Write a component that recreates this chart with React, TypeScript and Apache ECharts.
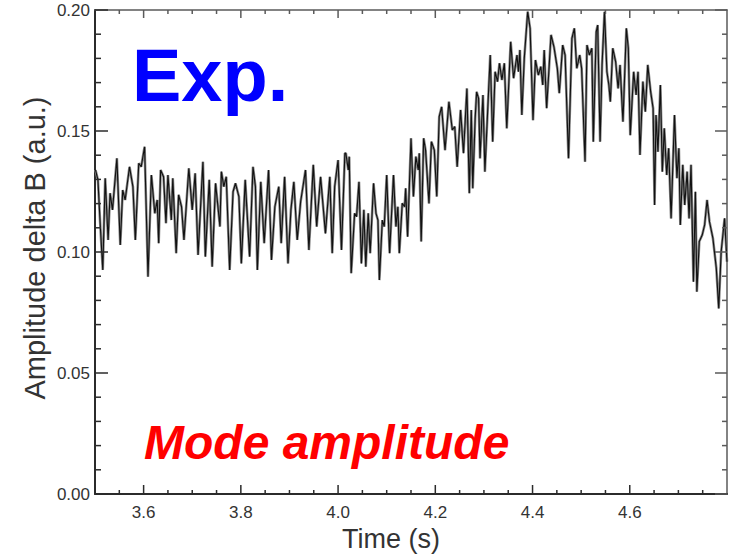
import React, { useEffect, useRef } from "react";
import * as echarts from "echarts";

// Time (s)
const timeS: number[] = [
  3.501, 3.506, 3.511, 3.516, 3.521, 3.527, 3.531, 3.536, 3.545, 3.552,
  3.557, 3.562, 3.571, 3.578, 3.583, 3.590, 3.595, 3.602, 3.609, 3.616,
  3.623, 3.628, 3.631, 3.635, 3.641, 3.646, 3.650, 3.657, 3.660, 3.667,
  3.672, 3.678, 3.683, 3.693, 3.700, 3.706, 3.712, 3.722, 3.727, 3.735,
  3.741, 3.748, 3.757, 3.760, 3.765, 3.770, 3.777, 3.784, 3.789, 3.796,
  3.801, 3.809, 3.818, 3.825, 3.830, 3.834, 3.841, 3.848, 3.857, 3.863,
  3.870, 3.878, 3.883, 3.890, 3.897, 3.903, 3.909, 3.916, 3.923, 3.933,
  3.940, 3.949, 3.956, 3.964, 3.974, 3.983, 3.988, 3.993, 4.000, 4.007,
  4.014, 4.016, 4.021, 4.023, 4.027, 4.034, 4.038, 4.043, 4.048, 4.053,
  4.057, 4.062, 4.066, 4.073, 4.078, 4.082, 4.085, 4.091, 4.095, 4.100,
  4.106, 4.114, 4.119, 4.123, 4.126, 4.132, 4.137, 4.139, 4.143, 4.150,
  4.155, 4.160, 4.165, 4.167, 4.171, 4.176, 4.180, 4.187, 4.192, 4.198,
  4.203, 4.208, 4.213, 4.220, 4.228, 4.235, 4.240, 4.245, 4.252, 4.258,
  4.265, 4.270, 4.274, 4.277, 4.282, 4.285, 4.289, 4.292, 4.298, 4.302,
  4.307, 4.313, 4.318, 4.323, 4.328, 4.332, 4.337, 4.342, 4.347, 4.355,
  4.361, 4.368, 4.371, 4.374, 4.378, 4.383, 4.390, 4.395, 4.401, 4.406,
  4.412, 4.417, 4.421, 4.424, 4.429, 4.438, 4.444, 4.451, 4.455, 4.462,
  4.467, 4.474, 4.481, 4.486, 4.491, 4.497, 4.501, 4.508, 4.512, 4.517,
  4.522, 4.525, 4.531, 4.534, 4.539, 4.543, 4.548, 4.553, 4.557, 4.560,
  4.565, 4.571, 4.576, 4.580, 4.586, 4.593, 4.597, 4.601, 4.608, 4.613,
  4.617, 4.621, 4.627, 4.632, 4.637, 4.643, 4.648, 4.651, 4.654, 4.658,
  4.663, 4.667, 4.671, 4.676, 4.680, 4.685, 4.692, 4.697, 4.701, 4.704,
  4.709, 4.713, 4.718, 4.722, 4.726, 4.731, 4.735, 4.738, 4.743, 4.749,
  4.754, 4.759, 4.764, 4.771, 4.778, 4.783, 4.788, 4.795, 4.800,
];

// Amplitude delta B (a.u.)
const amplitude: number[] = [
  0.1339, 0.1298, 0.1105, 0.0926, 0.1305, 0.1050, 0.1243, 0.1174, 0.1387, 0.1029,
  0.1256, 0.1215, 0.1352, 0.1270, 0.1050, 0.1367, 0.1352, 0.1435, 0.0898, 0.1318,
  0.1160, 0.1215, 0.1036, 0.1339, 0.1311, 0.1119, 0.1318, 0.1132, 0.1305, 0.0995,
  0.1236, 0.1187, 0.1050, 0.1346, 0.1174, 0.1325, 0.0988, 0.1373, 0.0981, 0.1298,
  0.0939, 0.1284, 0.1105, 0.1332, 0.1270, 0.1311, 0.0926, 0.1249, 0.1284, 0.1229,
  0.0953, 0.1298, 0.0981, 0.1352, 0.1270, 0.0926, 0.1290, 0.1036, 0.1339, 0.0967,
  0.1187, 0.1270, 0.1036, 0.1311, 0.0953, 0.1174, 0.1290, 0.1050, 0.1208, 0.1339,
  0.1008, 0.1360, 0.1105, 0.1311, 0.1077, 0.1311, 0.0995, 0.1270, 0.1380, 0.1008,
  0.1408, 0.1408, 0.1339, 0.1394, 0.0912, 0.1160, 0.1146, 0.1290, 0.0953, 0.1174,
  0.0939, 0.1160, 0.0995, 0.1284, 0.1160, 0.1132, 0.0884, 0.1132, 0.1105, 0.1318,
  0.0995, 0.1318, 0.1105, 0.1187, 0.0995, 0.1201, 0.1187, 0.1263, 0.1063, 0.1470,
  0.1229, 0.1394, 0.1339, 0.1408, 0.1043, 0.1470, 0.1421, 0.1201, 0.1456, 0.1421,
  0.1229, 0.1559, 0.1600, 0.1421, 0.1621, 0.1504, 0.1518, 0.1352, 0.1587, 0.1408,
  0.1676, 0.1243, 0.1587, 0.1263, 0.1552, 0.1662, 0.1635, 0.1387, 0.1649, 0.1332,
  0.1552, 0.1814, 0.1456, 0.1745, 0.1704, 0.1780, 0.1711, 0.1780, 0.1511, 0.1869,
  0.1718, 0.1814, 0.1745, 0.1835, 0.1566, 0.1800, 0.1993, 0.1924, 0.1545, 0.1793,
  0.1731, 0.1766, 0.1690, 0.1835, 0.1594, 0.1897, 0.1848, 0.1759, 0.1656, 0.1855,
  0.1814, 0.1387, 0.1883, 0.1924, 0.1759, 0.1814, 0.1759, 0.1373, 0.1855, 0.1814,
  0.1842, 0.1456, 0.1910, 0.1938, 0.1456, 0.1773, 0.1993, 0.1745, 0.1690, 0.1621,
  0.1842, 0.1786, 0.1676, 0.1773, 0.1538, 0.1924, 0.1842, 0.1483, 0.1745, 0.1649,
  0.1745, 0.1401, 0.1704, 0.1580, 0.1773, 0.1662, 0.1594, 0.1194, 0.1566, 0.1414,
  0.1690, 0.1332, 0.1511, 0.1318, 0.1429, 0.1139, 0.1566, 0.1305, 0.1429, 0.1112,
  0.1360, 0.1194, 0.1332, 0.1139, 0.1360, 0.0877, 0.1249, 0.0836, 0.1043, 0.1070,
  0.1112, 0.1215, 0.1125, 0.1057, 0.0933, 0.0767, 0.1001, 0.1139, 0.0960,
];

// Tick values
const xMajorTicks: number[] = [3.6, 3.8, 4.0, 4.2, 4.4, 4.6];
const xMinorTicks: number[] = [
  3.55, 3.65, 3.7, 3.75, 3.85, 3.9, 3.95, 4.05, 4.1, 4.15, 4.25, 4.3, 4.35,
  4.45, 4.5, 4.55, 4.65, 4.7, 4.75,
];
const yMajorTicks: number[] = [0, 0.05, 0.1, 0.15, 0.2];
const yMinorTicks: number[] = [
  0.01, 0.02, 0.03, 0.04, 0.06, 0.07, 0.08, 0.09, 0.11, 0.12, 0.13, 0.14,
  0.16, 0.17, 0.18, 0.19,
];

const xMin = 3.5;
const xMax = 4.8;
const yMin = 0;
const yMax = 0.2;
const yInterval = 0.05;

const FONT = "'Liberation Sans', Arial, Helvetica, sans-serif";
const AXIS_DARK = "#2b2b2b";
const AXIS_GRAY = "#5a5a5a";

// side codes: 0 bottom, 1 top, 2 left, 3 right
const SIDE_BOTTOM = 0;
const SIDE_TOP = 1;
const SIDE_LEFT = 2;
const SIDE_RIGHT = 3;

export default function App() {
  const ref = useRef<HTMLDivElement | null>(null);

  useEffect(() => {
    if (!ref.current) return;
    const chart = echarts.init(ref.current, undefined, { renderer: "svg" });
    const data = timeS.map((t, i) => [t, amplitude[i]]);

    // tick marks drawn through the axes' scales: [x, y, side, length]
    const tickData: number[][] = [];
    xMajorTicks.forEach((v) => {
      tickData.push([v, yMin, SIDE_BOTTOM, 9]);
      tickData.push([v, yMax, SIDE_TOP, 8]);
    });
    xMinorTicks.forEach((v) => {
      tickData.push([v, yMin, SIDE_BOTTOM, 4]);
      tickData.push([v, yMax, SIDE_TOP, 4]);
    });
    yMajorTicks.forEach((v) => {
      tickData.push([xMin, v, SIDE_LEFT, 13]);
      tickData.push([xMax, v, SIDE_RIGHT, 12]);
    });
    yMinorTicks.forEach((v) => {
      tickData.push([xMin, v, SIDE_LEFT, 6]);
      tickData.push([xMax, v, SIDE_RIGHT, 5]);
    });

    const baseX = {
      type: "value" as const,
      min: xMin,
      max: xMax,
      splitLine: { show: false },
      axisTick: { show: false },
      minorTick: { show: false },
    };
    const baseY = {
      type: "value" as const,
      min: yMin,
      max: yMax,
      interval: yInterval,
      splitLine: { show: false },
      axisTick: { show: false },
      minorTick: { show: false },
    };

    chart.setOption({
      animation: false,
      backgroundColor: "#ffffff",
      grid: {
        left: 95,
        top: 10,
        width: 632,
        height: 484,
        outerBoundsMode: "none",
      },
      xAxis: [
        {
          ...baseX,
          position: "bottom",
          axisLine: { show: true, onZero: false, lineStyle: { color: AXIS_DARK, width: 2 } },
          axisLabel: {
            show: true,
            customValues: xMajorTicks,
            margin: 10,
            color: "#333",
            fontSize: 17,
            fontFamily: FONT,
            formatter: (v: number) => v.toFixed(1),
          },
        },
        {
          ...baseX,
          position: "top",
          axisLine: { show: true, onZero: false, lineStyle: { color: AXIS_GRAY, width: 1.5 } },
          axisLabel: { show: false },
        },
      ],
      yAxis: [
        {
          ...baseY,
          position: "left",
          axisLine: { show: true, onZero: false, lineStyle: { color: AXIS_DARK, width: 2 } },
          axisLabel: {
            show: true,
            margin: 5,
            color: "#333",
            fontSize: 17,
            fontFamily: FONT,
            formatter: (v: number) => v.toFixed(2),
          },
        },
        {
          ...baseY,
          position: "right",
          axisLine: { show: true, onZero: false, lineStyle: { color: AXIS_GRAY, width: 1.5 } },
          axisLabel: { show: false },
        },
      ],
      series: [
        {
          type: "line",
          xAxisIndex: 0,
          yAxisIndex: 0,
          data,
          showSymbol: false,
          symbol: "none",
          lineStyle: { color: "#8a8a8a", width: 2.6 },
          silent: true,
          z: 2,
        },
        {
          type: "line",
          xAxisIndex: 0,
          yAxisIndex: 0,
          data,
          showSymbol: false,
          symbol: "none",
          lineStyle: { color: "#111111", width: 1.1 },
          silent: true,
          z: 3,
        },
        {
          type: "custom",
          xAxisIndex: 0,
          yAxisIndex: 0,
          data: tickData,
          encode: { x: 0, y: 1 },
          silent: true,
          clip: false,
          z: 5,
          renderItem: (_params: any, api: any) => {
            const p = api.coord([api.value(0), api.value(1)]);
            const side = api.value(2);
            const len = api.value(3);
            let x2 = p[0];
            let y2 = p[1];
            if (side === SIDE_BOTTOM) y2 -= len;
            else if (side === SIDE_TOP) y2 += len;
            else if (side === SIDE_LEFT) x2 += len;
            else x2 -= len;
            const dark = side === SIDE_BOTTOM || side === SIDE_LEFT;
            return {
              type: "line",
              shape: { x1: p[0], y1: p[1], x2, y2 },
              style: { stroke: dark ? AXIS_DARK : AXIS_GRAY, lineWidth: 1.5 },
            };
          },
        },
      ],
      graphic: [
        {
          type: "text",
          rotation: Math.PI / 2,
          x: 35,
          y: 248,
          style: {
            text: "Amplitude delta B (a.u.)",
            fontSize: 29,
            fontFamily: FONT,
            fill: "#333",
            align: "center",
            verticalAlign: "middle",
          },
        },
        {
          type: "text",
          x: 391,
          y: 539,
          style: {
            text: "Time (s)",
            fontSize: 27,
            fontFamily: FONT,
            fill: "#333",
            align: "center",
            verticalAlign: "middle",
          },
        },
        {
          type: "text",
          x: 132,
          y: 75,
          style: {
            text: "Exp.",
            fontSize: 74,
            fontWeight: "bold",
            fontFamily: FONT,
            fill: "#0000ff",
            align: "left",
            verticalAlign: "middle",
          },
        },
        {
          type: "text",
          x: 144,
          y: 442,
          style: {
            text: "Mode amplitude",
            fontSize: 48,
            fontWeight: "bold",
            fontStyle: "italic",
            fontFamily: FONT,
            fill: "#ff0000",
            align: "left",
            verticalAlign: "middle",
          },
        },
      ],
    });

    return () => {
      chart.dispose();
    };
  }, []);

  return (
    <div
      ref={ref}
      style={{ position: "fixed", left: 0, top: 0, width: 734, height: 557, background: "#fff" }}
    />
  );
}
